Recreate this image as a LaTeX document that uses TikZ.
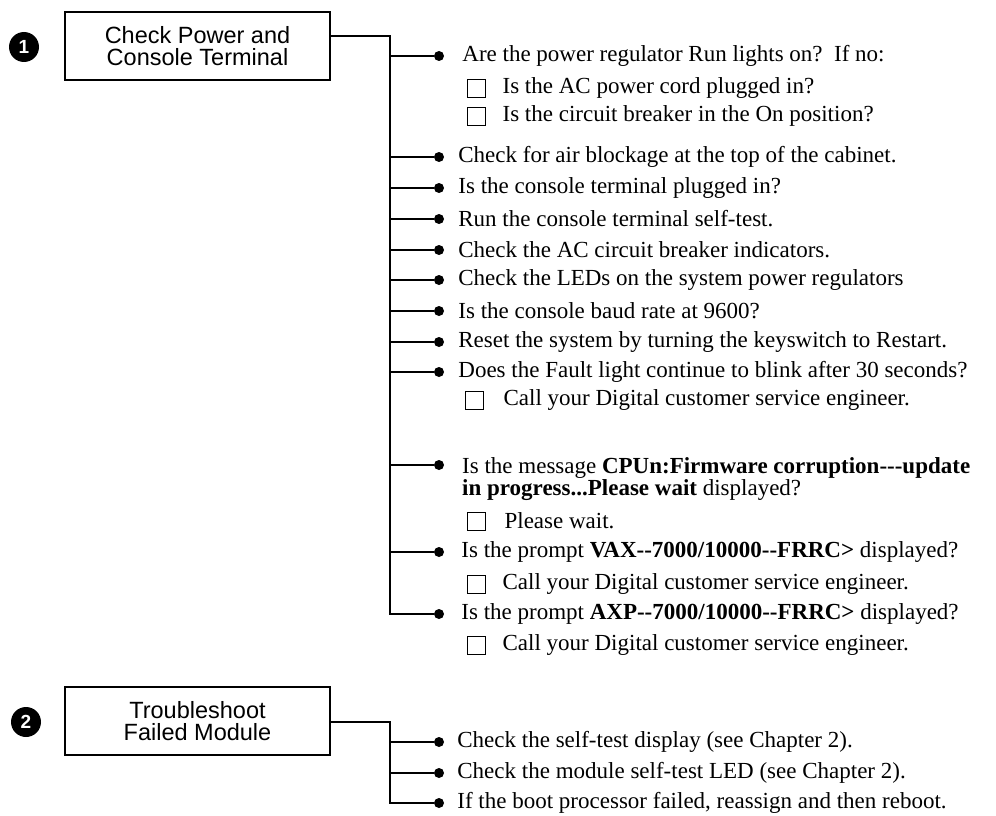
\documentclass[tikz,border=0pt]{standalone}
\usepackage{fontspec}
\setmainfont{Liberation Serif}
\setsansfont{Liberation Sans}
\usetikzlibrary{positioning}

\begin{document}
\begin{tikzpicture}[
    x=1pt, y=-1pt,
    stepbox/.style={rectangle, draw, line width=1.8pt, minimum width=265pt, minimum height=68pt, align=center, font=\sffamily\fontsize{23.5}{22}\selectfont},
    num/.style={circle, fill=black, text=white, inner sep=0pt, minimum size=30pt, font=\sffamily\bfseries\fontsize{19}{19}\selectfont},
    dot/.style={circle, fill=black, inner sep=0pt, minimum size=10pt},
    item/.style={anchor=west, inner sep=0pt, font=\fontsize{23}{25}\selectfont},
    chk/.style={rectangle, draw, line width=0.8pt, inner sep=0pt, minimum size=18pt},
    link/.style={line width=1.3pt}
]
    \useasboundingbox (0,0) rectangle (996,816);

    % step 1
    \node[num] (n1) at (24,47) {1};
    \node[stepbox] (power) at (197.5,46) {Check Power and\\Console Terminal};
    \coordinate (j1) at (390,36);

    \node[dot] (d1) at (439,56) {};
    \node[item, right=18pt of d1] (t1) {Are the power regulator Run lights on?\ \ If no:};
    \node[chk] (c1a) at (476,88) {};
    \node[item, right=17pt of c1a] {Is the AC power cord plugged in?};
    \node[chk] (c1b) at (476,116) {};
    \node[item, right=17pt of c1b] {Is the circuit breaker in the On position?};

    \node[dot] (d2) at (439,157) {};
    \node[item, right=14pt of d2] {Check for air blockage at the top of the cabinet.};
    \node[dot] (d3) at (439,188) {};
    \node[item, right=14pt of d3] {Is the console terminal plugged in?};
    \node[dot] (d4) at (439,219) {};
    \node[item, right=14pt of d4] {Run the console terminal self-test.};
    \node[dot] (d5) at (439,250) {};
    \node[item, right=14pt of d5] {Check the AC circuit breaker indicators.};
    \node[dot] (d6) at (439,280) {};
    \node[item, right=14pt of d6] {Check the LEDs on the system power regulators};
    \node[dot] (d7) at (439,311) {};
    \node[item, right=14pt of d7] {Is the console baud rate at 9600?};
    \node[dot] (d8) at (439,342) {};
    \node[item, right=14pt of d8] {Reset the system by turning the keyswitch to Restart.};
    \node[dot] (d9) at (439,372) {};
    \node[item, right=14pt of d9] {Does the Fault light continue to blink after 30 seconds?};
    \node[chk] (c9) at (474,400) {};
    \node[item, right=20pt of c9] {Call your Digital customer service engineer.};

    \node[dot] (d10) at (439,465) {};
    \node[item, anchor=north west, align=left, font=\fontsize{23}{17}\selectfont] at (462,457)
        {Is the message \textbf{CPUn:Firmware corruption-{}-{}-update}\\\textbf{in progress...Please wait} displayed?};
    \node[chk] (c10) at (476,521) {};
    \node[item, right=19pt of c10] {Please wait.};

    \node[dot] (d11) at (439,552) {};
    \node[item, right=17pt of d11] {Is the prompt \textbf{VAX-{}-7000/10000-{}-FRRC>} displayed?};
    \node[chk] (c11) at (476,584) {};
    \node[item, right=17pt of c11] {Call your Digital customer service engineer.};

    \node[dot] (d12) at (439,614) {};
    \node[item, right=17pt of d12] {Is the prompt \textbf{AXP-{}-7000/10000-{}-FRRC>} displayed?};
    \node[chk] (c12) at (476,645) {};
    \node[item, right=17pt of c12] {Call your Digital customer service engineer.};

    \draw[link] (power.east |- j1) -- (j1) -- (j1 |- d12) -- (d12);
    \foreach \d in {d1,d2,d3,d4,d5,d6,d7,d8,d9,d10,d11}
        \draw[link] (j1 |- \d) -- (\d);

    % step 2
    \node[num] (n2) at (26,722) {2};
    \node[stepbox] (module) at (197.5,721) {Troubleshoot\\Failed Module};
    \coordinate (j2) at (390,722);

    \node[dot] (e1) at (439,742) {};
    \node[item, right=13pt of e1] {Check the self-test display (see Chapter 2).};
    \node[dot] (e2) at (439,773) {};
    \node[item, right=13pt of e2] {Check the module self-test LED (see Chapter 2).};
    \node[dot] (e3) at (439,803) {};
    \node[item, right=13pt of e3] {If the boot processor failed, reassign and then reboot.};

    \draw[link] (module.east |- j2) -- (j2) -- (j2 |- e3) -- (e3);
    \foreach \d in {e1,e2}
        \draw[link] (j2 |- \d) -- (\d);
\end{tikzpicture}
\end{document}
